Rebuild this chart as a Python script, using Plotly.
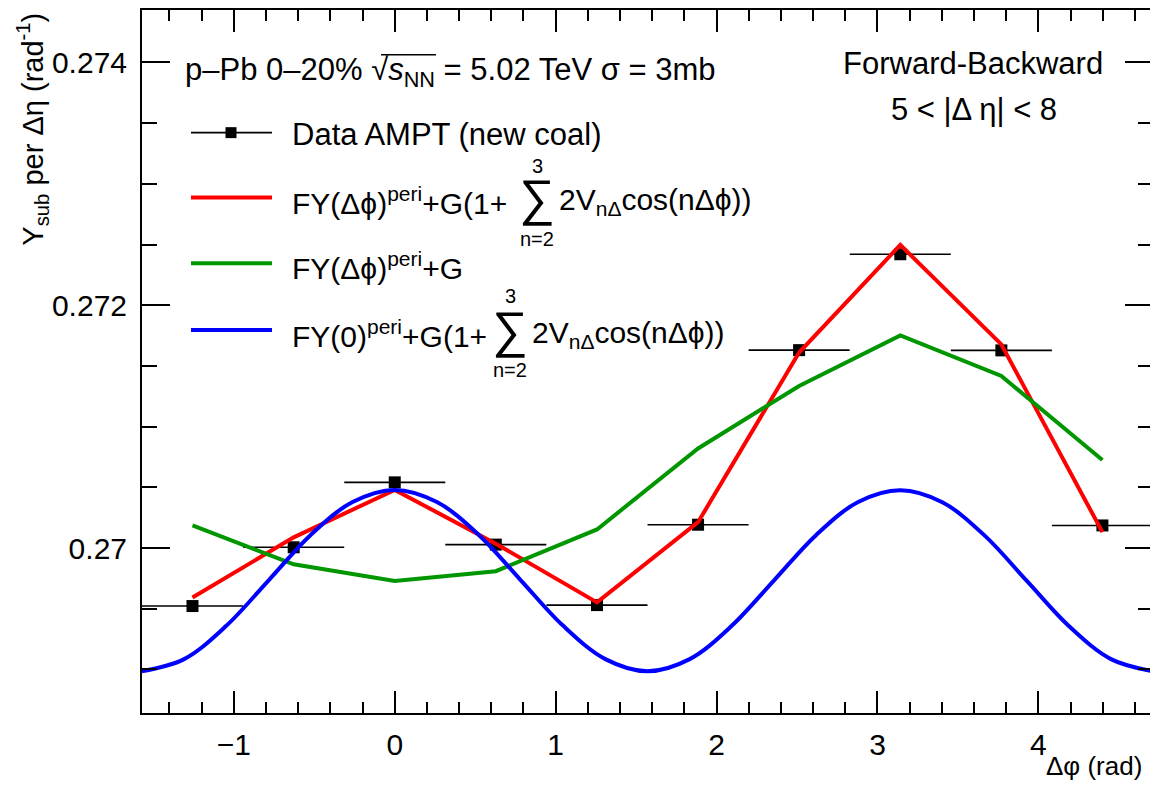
import plotly.graph_objects as go

# ---------------- data ----------------
dphi = [-1.257, -0.628, 0.0, 0.628, 1.257, 1.885, 2.513, 3.142, 3.770, 4.398]
data_y = [0.269522, 0.270006, 0.270541, 0.270028, 0.269530, 0.270192,
          0.271630, 0.272420, 0.271628, 0.270186]
data_xerr = [0.314] * 10

red_y = [0.269593, 0.270088, 0.270479, 0.270036, 0.269552, 0.270213,
         0.271610, 0.272497, 0.271677, 0.270131]
green_y = [0.270186, 0.269866, 0.269729, 0.269809, 0.270153, 0.270820,
           0.271335, 0.271751, 0.271417, 0.270725]

blue_x = [-1.571, -1.309, -1.047, -0.785, -0.524, -0.262, 0.0, 0.262, 0.524,
          0.785, 1.047, 1.309, 1.571, 1.833, 2.094, 2.356, 2.618, 2.880,
          3.142, 3.403, 3.665, 3.927, 4.189, 4.451, 4.712]
blue_y = [0.268985, 0.269085, 0.269359, 0.269732, 0.270106, 0.270379,
          0.270479, 0.270379, 0.270106, 0.269732, 0.269359, 0.269085,
          0.268985, 0.269085, 0.269359, 0.269732, 0.270106, 0.270379,
          0.270476, 0.270377, 0.270104, 0.269731, 0.269358, 0.269085,
          0.268985]

x_range = [-1.5708, 4.7124]
y_range = [0.268641, 0.274432]

# ---------------- layout helpers (page pixel -> paper) ----------------
OFF = 8                      # default body margin of the html page
FW, FH = 1150, 775
L, R, T, B = 142, 1153, 8, 713   # plot frame in page pixels
W, H = R - L, B - T


def px(x):
    return (x - L) / W


def py(y):
    return (B - y) / H


FONT = "Liberation Sans, Arial, Helvetica, sans-serif"
RED = "#ff0000"
GREEN = "#009600"
BLUE = "#0000ff"

fig = go.Figure()

fig.add_trace(go.Scatter(
    x=dphi, y=data_y, mode="markers",
    marker=dict(symbol="square", size=12, color="black"),
    error_x=dict(type="data", array=data_xerr, width=0, thickness=1.6, color="black"),
    name="Data AMPT (new coal)", showlegend=False))
fig.add_trace(go.Scatter(x=dphi, y=red_y, mode="lines",
                         line=dict(color=RED, width=4), showlegend=False))
fig.add_trace(go.Scatter(x=dphi, y=green_y, mode="lines",
                         line=dict(color=GREEN, width=4), showlegend=False))
fig.add_trace(go.Scatter(x=blue_x, y=blue_y, mode="lines",
                         line=dict(color=BLUE, width=4, shape="spline", smoothing=1.0),
                         showlegend=False))

annotations = []
shapes = []


def text(x, y, s, size=31, xanchor="left", angle=0):
    annotations.append(dict(x=px(x), y=py(y), xref="paper", yref="paper", text=s,
                            showarrow=False, xanchor=xanchor, yanchor="middle",
                            textangle=angle,
                            font=dict(family=FONT, size=size, color="black")))


def hline(x0, x1, y, color, width):
    shapes.append(dict(type="line", xref="paper", yref="paper", x0=px(x0), x1=px(x1),
                       y0=py(y), y1=py(y), line=dict(color=color, width=width)))


# header text
text(183, 70, "p–Pb 0–20% √<i>s</i><sub>NN</sub> = 5.02 TeV σ = 3mb", 31)
hline(381, 436, 53, "black", 1.5)
text(973, 62, "Forward-Backward", 31, "center")
text(974, 108, "5 < |Δ η| < 8", 31, "center")

# legend: data
hline(191, 272, 131, "black", 1.6)
shapes.append(dict(type="rect", xref="paper", yref="paper", x0=px(225.5), x1=px(236.5),
                   y0=py(136.5), y1=py(125.5), fillcolor="black", line=dict(width=0)))
text(290, 133, "Data AMPT (new coal)", 31)

# legend: red
hline(191, 272, 196, RED, 4)
text(290, 200, "FY(Δϕ)<sup>peri</sup>+G(1+", 30)
text(537, 197, "∑", 50, "center")
text(537, 164, "3", 20, "center")
text(537, 238, "n=2", 20, "center")
text(557, 200, "2V<sub>nΔ</sub>cos(nΔϕ))", 30)

# legend: green
hline(191, 272, 262, GREEN, 4)
text(290, 265, "FY(Δϕ)<sup>peri</sup>+G", 30)

# legend: blue
hline(191, 272, 329, BLUE, 4)
text(290, 333, "FY(0)<sup>peri</sup>+G(1+", 30)
text(510, 329, "∑", 50, "center")
text(510, 295, "3", 20, "center")
text(510, 369, "n=2", 20, "center")
text(530, 333, "2V<sub>nΔ</sub>cos(nΔϕ))", 30)

# axis titles
text(1144, 766, "Δφ (rad)", 26, "right")
text(32, 128, "Y<sub>sub</sub> per Δη (rad<sup>-1</sup>)", 29, "center", -90)

fig.update_layout(
    width=FW, height=FH,
    margin=dict(l=L - OFF, r=(FW + OFF) - R, t=T - OFF, b=(FH + OFF) - B, pad=0),
    paper_bgcolor="white", plot_bgcolor="white",
    showlegend=False,
    annotations=annotations, shapes=shapes,
    font=dict(family=FONT, size=30, color="black"),
)

fig.update_xaxes(
    range=x_range, showgrid=False, zeroline=False,
    showline=True, linecolor="black", linewidth=2, mirror="allticks",
    ticks="inside", ticklen=22, tickwidth=1.5, tickcolor="black",
    tickmode="linear", tick0=0, dtick=1,
    minor=dict(ticks="inside", ticklen=11, tickwidth=1.5, tickcolor="black",
               dtick=0.2, tick0=0, showgrid=False),
    tickfont=dict(family=FONT, size=30, color="black"),
    ticklabelstandoff=4,
)
fig.update_yaxes(
    range=y_range, showgrid=False, zeroline=False,
    showline=True, linecolor="black", linewidth=2, mirror="allticks",
    ticks="inside", ticklen=28, tickwidth=1.5, tickcolor="black",
    tickmode="linear", tick0=0.270, dtick=0.002, tickformat="~g",
    minor=dict(ticks="inside", ticklen=15, tickwidth=1.5, tickcolor="black",
               dtick=0.0005, tick0=0.270, showgrid=False),
    tickfont=dict(family=FONT, size=30, color="black"),
    ticklabelstandoff=7,
)

fig.write_html("out.html")
